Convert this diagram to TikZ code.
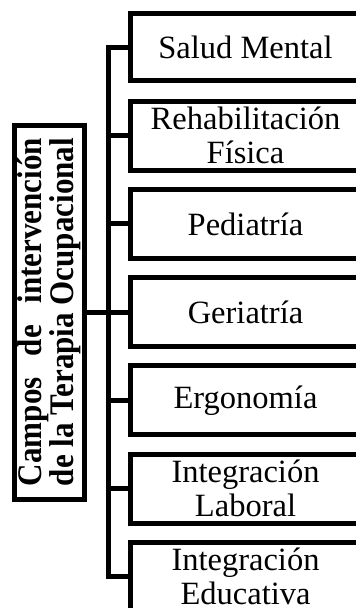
\documentclass[tikz,border=0pt]{standalone}
\usepackage{fontspec}
\setmainfont{Liberation Serif}
\newfontfamily\narrowserif[FakeStretch=0.9]{Liberation Serif}
\begin{document}
\begin{tikzpicture}[x=1pt,y=-1pt,
  leaf/.style={draw, line width=5pt, line join=miter, minimum width=230pt, minimum height=69pt,
    anchor=north west, align=center, inner sep=0pt, outer sep=0pt,
    font=\fontsize{32.5}{34}\selectfont},
  mainbox/.style={draw, line width=5pt, rotate=90, minimum width=374pt, minimum height=70pt,
    align=center, inner sep=0pt, outer sep=0pt, font=\narrowserif\fontsize{34.5}{32}\selectfont\bfseries},
  link/.style={line width=5pt, line join=miter}]
\path[use as bounding box] (0,0) rectangle (356,608);
\clip (0,0) rectangle (356,608);
\node[mainbox] (main) at (49.5,312) {\makebox[348pt][s]{Campos de intervención}\\\makebox[348pt][s]{de la Terapia Ocupacional}};
\node[leaf, minimum height=67pt] (b1) at (130.5,13.5) {Salud Mental};
\node[leaf] (b2) at (130.5,101.2) {Rehabilitación\\Física};
\node[leaf] (b3) at (130.5,189.4) {Pediatría};
\node[leaf] (b4) at (130.5,277.6) {Geriatría};
\node[leaf] (b5) at (130.5,365.8) {Ergonomía};
\node[leaf] (b6) at (130.5,454) {Integración\\Laboral};
\node[leaf] (b7) at (130.5,542.2) {Integración\\Educativa};
\coordinate (t) at (108.5,0);
\draw[link] (b1.west) -- (b1.west -| t) -- (b7.west -| t) -- (b7.west);
\foreach \b in {b2,b3,b4,b5,b6} \draw[link] (\b.west) -- (\b.west -| t);
\draw[link] (main.south) -- (main.south -| t);
\end{tikzpicture}
\end{document}
